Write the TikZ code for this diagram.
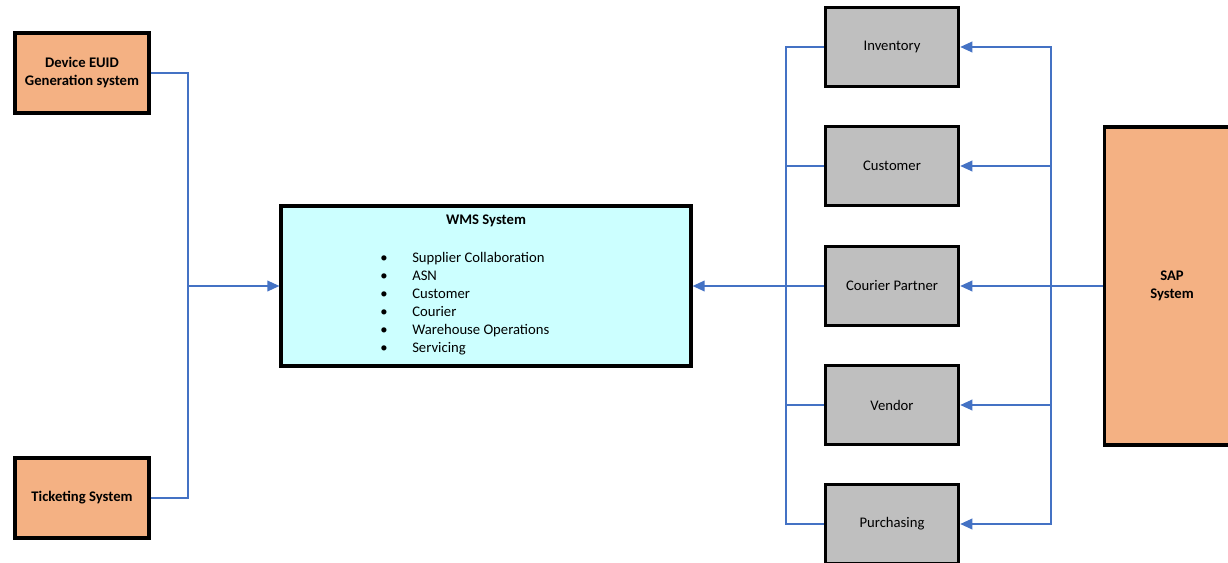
\documentclass[tikz,border=0pt]{standalone}
\usepackage{fontspec}
\setmainfont{Carlito}
\usetikzlibrary{arrows.meta}
\definecolor{boxorange}{HTML}{F4B183}
\definecolor{boxcyan}{HTML}{CCFFFF}
\definecolor{boxgray}{HTML}{BFBFBF}
\definecolor{linkblue}{HTML}{4472C4}
\tikzset{
  sysbox/.style={draw=black, line width=2.4pt, fill=boxorange, font=\bfseries\fontsize{11}{13.5}\selectfont, align=center, inner sep=2pt},
  modbox/.style={draw=black, line width=2.4pt, fill=boxgray, font=\fontsize{11}{13.5}\selectfont, minimum width=100pt, minimum height=59pt, inner sep=2pt},
  link/.style={draw=linkblue, line width=1.1pt},
  arrowlink/.style={link, -{Triangle[length=9pt,width=8pt]}}
}
\begin{document}
\begin{tikzpicture}[x=0.75pt,y=-0.75pt]
\useasboundingbox (0,0) rectangle (1228,563);
\clip (0,0) rectangle (1228,563);

% source systems on the left
\node[sysbox, minimum width=100.5pt, minimum height=60pt] (euid) at (82,73) {Device EUID\\Generation system};
\node[sysbox, minimum width=100.5pt, minimum height=60pt] (ticket) at (82,498) {Ticketing System};

% central WMS
\node[draw=black, line width=2.4pt, fill=boxcyan, minimum width=307.5pt, minimum height=120pt] (wms) at (486,286) {};
\node[font=\bfseries\fontsize{11}{13.5}\selectfont, anchor=north] (wmstitle) at (486,210) {WMS System};
\node[font=\fontsize{11}{13.5}\selectfont, anchor=north west, align=left, inner sep=0pt] (wmslist) at (380,252) {%
  \makebox[24pt][l]{\textbullet}Supplier Collaboration\\
  \makebox[24pt][l]{\textbullet}ASN\\
  \makebox[24pt][l]{\textbullet}Customer\\
  \makebox[24pt][l]{\textbullet}Courier\\
  \makebox[24pt][l]{\textbullet}Warehouse Operations\\
  \makebox[24pt][l]{\textbullet}Servicing};

% master data modules
\node[modbox] (inv)  at (892,47)  {Inventory};
\node[modbox] (cust) at (892,166) {Customer};
\node[modbox] (cour) at (892,286) {Courier Partner};
\node[modbox] (vend) at (892,405) {Vendor};
\node[modbox] (purch) at (892,524) {Purchasing};

% SAP
\node[sysbox, minimum width=101pt, minimum height=238.5pt] (sap) at (1172,286) {SAP\\System};

% bus junctions
\coordinate (leftbus) at (188,286);
\coordinate (modbus) at (786,286);
\coordinate (sapbus) at (1051,286);

% left feeds into WMS
\draw[link] (euid.east) -| (leftbus);
\draw[link] (ticket.east) -| (leftbus);
\draw[arrowlink] (leftbus) -- (wms.west);

% modules into WMS
\draw[link] (inv.west) -| (modbus);
\draw[link] (cust.west) -| (modbus);
\draw[link] (vend.west) -| (modbus);
\draw[link] (purch.west) -| (modbus);
\draw[arrowlink] (cour.west) -- (wms.east);

% SAP distributes to modules
\draw[arrowlink] (sap.west) -- (cour.east);
\draw[arrowlink] (sapbus) |- (inv.east);
\draw[arrowlink] (sapbus) |- (cust.east);
\draw[arrowlink] (sapbus) |- (vend.east);
\draw[arrowlink] (sapbus) |- (purch.east);
\end{tikzpicture}
\end{document}
